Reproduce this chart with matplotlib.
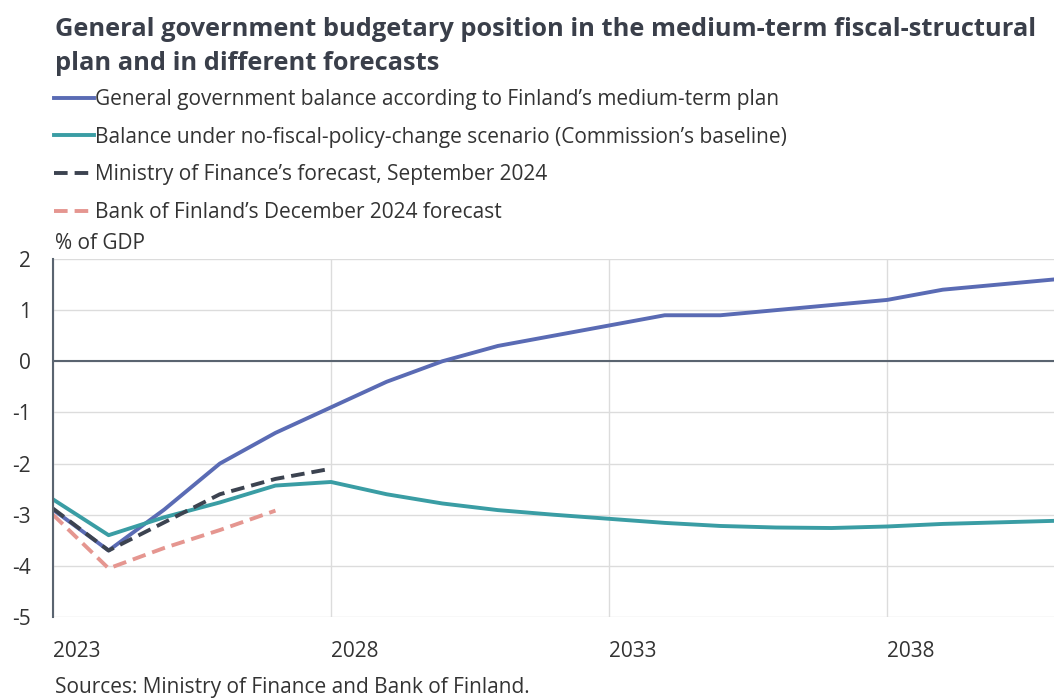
import matplotlib
matplotlib.use("Agg")
import matplotlib.pyplot as plt

years = list(range(2023, 2042))
plan_balance = [-2.9, -3.7, -2.9, -2.0, -1.4, -0.9, -0.4, 0.0, 0.3, 0.5, 0.7, 0.9, 0.9, 1.0, 1.1, 1.2, 1.4, 1.5, 1.6]
baseline_balance = [-2.7, -3.4, -3.05, -2.76, -2.43, -2.36, -2.6, -2.78, -2.91, -3.0, -3.08, -3.16, -3.22, -3.25, -3.26, -3.23, -3.18, -3.15, -3.12]
mof_years = [2023, 2024, 2025, 2026, 2027, 2028]
mof_balance = [-2.88, -3.7, -3.15, -2.6, -2.3, -2.1]
bof_years = [2023, 2024, 2025, 2026, 2027]
bof_balance = [-3.0, -4.05, -3.65, -3.3, -2.92]

labels = [
    "General government balance according to Finland\u2019s medium-term plan",
    "Balance under no-fiscal-policy-change scenario (Commission\u2019s baseline)",
    "Ministry of Finance\u2019s forecast, September 2024",
    "Bank of Finland\u2019s December 2024 forecast",
]
title = "General government budgetary position in the medium-term fiscal-structural\nplan and in different forecasts"
xticks = [2023, 2028, 2033, 2038]
yticks = [2, 1, 0, -1, -2, -3, -4, -5]

plt.rcParams['font.family'] = ['Open Sans', 'DejaVu Sans']
text_col = "#333333"
fs = 15

fig = plt.figure(figsize=(10.54, 7.0), dpi=100)
ax = fig.add_axes([53/1054, 83/700, 1001/1054, 358/700])

lw = 2.8
l1, = ax.plot(years, plan_balance, color="#5a6bb4", lw=lw, solid_joinstyle='round')
l2, = ax.plot(years, baseline_balance, color="#3a9da4", lw=lw, solid_joinstyle='round')
l3, = ax.plot(mof_years, mof_balance, color="#3c4350", lw=lw, linestyle=(0, (3.5, 1.8)))
l4, = ax.plot(bof_years, bof_balance, color="#e59690", lw=lw, linestyle=(0, (3.5, 1.8)))

ax.set_xlim(2023, 2041)
ax.set_ylim(-5, 2)
ax.set_xticks(xticks)
ax.set_xticklabels([str(x) for x in xticks])
ax.set_yticks(yticks)
ax.set_yticklabels([str(y) for y in yticks])
for t in ax.get_xticklabels():
    t.set_ha('left')
ax.tick_params(axis='both', length=0, labelsize=fs, colors=text_col)
ax.tick_params(axis='x', pad=17)
ax.tick_params(axis='y', pad=16)
ax.grid(True, color="#dcdcdc", lw=1)
ax.set_axisbelow(True)
for s in ['top', 'right', 'bottom']:
    ax.spines[s].set_visible(False)
ax.spines['left'].set_color("#5a6470")
ax.spines['left'].set_linewidth(1.5)
ax.axhline(0, color="#5a6470", lw=1.5, zorder=1.5)

fig.text(55/1054, 1 - 17/700, title, ha='left', va='top', fontsize=18.3,
         fontweight='bold', color="#3a3f4a", linespacing=1.45)

leg = fig.legend([l1, l2, l3, l4], labels, loc='upper left',
                 bbox_to_anchor=(54/1054, 1 - 89/700), frameon=False,
                 fontsize=fs, handlelength=1.9, handletextpad=0.05,
                 labelspacing=0.8, borderaxespad=0, borderpad=0)
for t in leg.get_texts():
    t.set_color(text_col)

fig.text(55/1054, 1 - 243/700, "% of GDP", ha='left', va='center', fontsize=fs, color=text_col)
fig.text(55/1054, 1 - 688/700, "Sources: Ministry of Finance and Bank of Finland.", ha='left',
         va='center', fontsize=fs, color=text_col)

fig.savefig("out.png", dpi=100)
